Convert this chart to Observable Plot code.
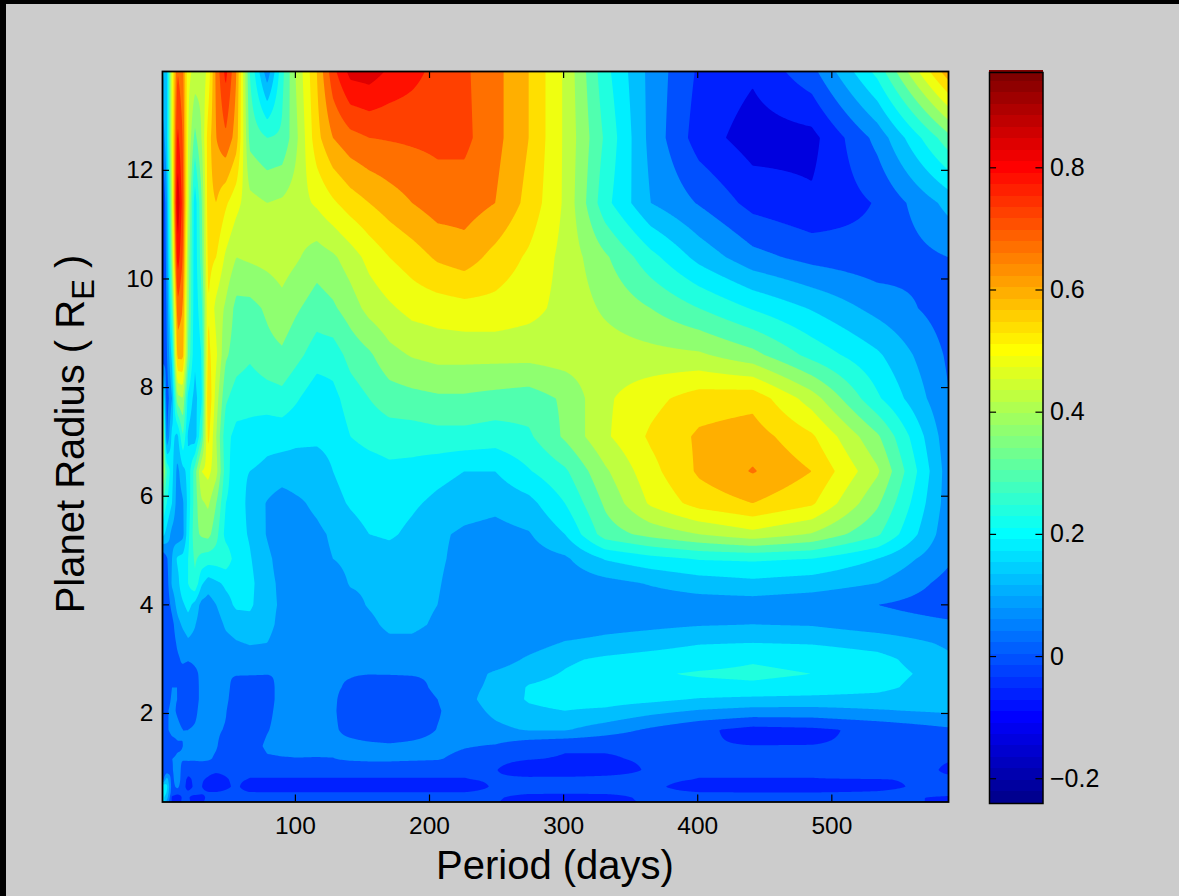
<!DOCTYPE html>
<html><head><meta charset="utf-8">
<script src="https://cdn.jsdelivr.net/npm/d3@7"></script>
<script src="https://cdn.jsdelivr.net/npm/@observablehq/plot@0.6"></script>
<style>
html,body{margin:0;padding:0;background:#ccc;}
#page{position:relative;width:1179px;height:896px;overflow:hidden;background:#cccccc;font-family:"Liberation Sans",Arial,sans-serif;color:#000;}
#edge{position:absolute;left:0;top:0;right:0;bottom:0;box-shadow:inset 6px 4px 0 #000;pointer-events:none;}
#page svg{position:absolute;background:transparent;}
.title{position:absolute;white-space:nowrap;font-size:40px;line-height:1;}
#ytitle{left:70px;top:434px;transform:translate(-50%,-50%) rotate(-90deg);}
#xtitle{left:555px;top:865px;transform:translate(-50%,-50%);}
#ytitle sub{font-size:31px;line-height:0;vertical-align:-10px;}
</style></head>
<body><div id="page"><div id="edge"></div>
<div class="title" id="ytitle">Planet Radius ( R<sub>E</sub> )</div>
<div class="title" id="xtitle">Period (days)</div>
</div>
<script>
const periods=[0.9,4,8,12,16,20,25,30,35,41,48,56,66,79,90,100,116,128,141,155,170,187,206,226,249,274,301,331,365,401,441,485,534,587];
const radii=[13.82,12.6,11.4,10.4,9.46,8.6,7.8,7.1,6.46,5.87,5.3,4.85,4.4,4,3.64,3.3,3.0,2.73,2.48,2.26,2.05,1.7,1.4,1.16,0.96,0.79,0.65,0.54,0.45,0.37];
const r01=[.20,.15,.50,.72,.68,.50,.46,.44,.50,.68,.80,.66,.30,.08,.28,.42,.60,.76,.86,.87,.83,.80,.76,.73,.68,.60,.47,.26,.10,-.01,-.05,.04,.26,.64];
const r02=[.08,.16,.50,.80,.72,.48,.34,.42,.57,.66,.71,.63,.34,.30,.31,.40,.58,.66,.70,.72,.725,.73,.735,.735,.68,.60,.47,.29,.10,-.03,-.09,-.08,.08,.34];
const r03=[-.02,.10,.45,.90,.75,.45,.20,.35,.58,.60,.55,.50,.44,.42,.43,.45,.49,.53,.57,.60,.63,.66,.69,.69,.66,.58,.47,.26,.12,.055,-.02,-.05,.005,.14];
const r04=[-.02,.08,.40,.82,.72,.40,.20,.33,.56,.54,.47,.42,.43,.44,.45,.43,.39,.41,.45,.50,.54,.57,.61,.63,.58,.53,.46,.37,.26,.16,.08,.04,.02,.06];
const r05=[-.01,.06,.30,.70,.66,.38,.20,.28,.54,.46,.41,.34,.34,.37,.40,.37,.33,.35,.39,.44,.47,.50,.51,.52,.52,.50,.46,.41,.36,.30,.235,.175,.10,.03];
const r06=[0,.05,.20,.62,.62,.35,.19,.24,.56,.49,.37,.33,.31,.34,.35,.32,.27,.27,.32,.35,.40,.425,.44,.44,.44,.44,.45,.45,.44,.43,.38,.28,.19,.05];
const r07=[.30,.02,.12,.40,.42,.22,.16,.22,.60,.45,.31,.27,.26,.27,.28,.25,.20,.22,.27,.30,.33,.34,.35,.35,.34,.33,.37,.47,.52,.57,.58,.45,.25,.063];
const r08=[.50,.05,.20,.16,.30,.17,.14,.30,.56,.42,.26,.22,.22,.20,.20,.19,.19,.195,.24,.26,.27,.27,.28,.28,.27,.29,.37,.47,.55,.61,.63,.55,.37,.08];
const r09=[.45,.30,.20,.10,.16,.20,.33,.48,.50,.44,.27,.19,.18,.165,.155,.16,.155,.18,.20,.21,.225,.22,.20,.18,.18,.235,.29,.41,.52,.61,.665,.60,.43,.09];
const r10=[.30,.24,.18,.09,.11,.20,.33,.41,.43,.36,.24,.21,.165,.115,.085,.105,.135,.165,.185,.20,.21,.19,.165,.145,.135,.16,.24,.37,.49,.565,.60,.55,.37,.09];
const r11=[.20,.16,.10,.08,.10,.22,.34,.37,.38,.32,.22,.20,.175,.115,.07,.085,.105,.13,.16,.18,.19,.165,.13,.11,.10,.115,.18,.33,.38,.42,.46,.415,.31,.08];
const r12=[.005,.05,.12,.19,.20,.24,.31,.28,.27,.27,.28,.21,.185,.135,.09,.085,.10,.12,.135,.14,.15,.145,.13,.10,.09,.09,.11,.185,.22,.245,.25,.24,.18,.07];
const r13=[.005,.03,.13,.16,.22,.24,.29,.19,.15,.17,.19,.20,.195,.14,.105,.09,.08,.09,.125,.13,.14,.14,.125,.09,.08,.075,.08,.10,.125,.15,.165,.15,.12,.04];
const r14=[.005,.02,.08,.14,.17,.20,.16,.10,.09,.12,.16,.19,.19,.14,.11,.09,.07,.08,.10,.125,.145,.14,.12,.085,.08,.075,.075,.08,.085,.09,.09,.08,.06,.03];
const r15=[.005,.005,.04,.10,.13,.15,.125,.085,.08,.09,.13,.15,.16,.14,.10,.08,.07,.07,.09,.105,.135,.135,.11,.07,.07,.07,.075,.095,.105,.115,.12,.115,.09,.07];
const r16=[.005,.005,.03,.07,.09,.11,.10,.075,.07,.08,.10,.115,.125,.12,.09,.07,.065,.065,.075,.09,.105,.105,.09,.07,.075,.09,.125,.14,.155,.175,.18,.175,.155,.11];
const r17=[.005,.005,.02,.05,.07,.065,.07,.07,.065,.065,.07,.08,.09,.09,.08,.065,.065,.065,.07,.07,.08,.08,.08,.08,.085,.13,.17,.19,.205,.22,.235,.225,.20,.13];
const r18=[.005,.005,.01,.06,.04,.03,.05,.07,.075,.07,.065,.065,.065,.062,.065,.07,.065,.065,.065,.062,.064,.066,.07,.09,.13,.16,.185,.21,.235,.245,.25,.24,.21,.15];
const r19=[.02,.02,.06,.06,.02,.01,.03,.08,.08,.08,.08,.03,.02,.03,.09,.09,.08,.07,.05,.02,.01,.025,.08,.10,.135,.185,.20,.21,.22,.225,.23,.22,.20,.135];
const r20=[.03,.03,.07,.06,.02,.005,.03,.08,.08,.075,.075,.02,.005,.03,.09,.09,.08,.07,.03,.01,.005,.01,.06,.10,.15,.185,.20,.205,.195,.175,.165,.16,.155,.125];
const r21=[.05,.05,.08,.05,.02,.01,.04,.09,.09,.08,.065,.01,.01,.04,.09,.085,.08,.07,.02,.005,.01,.01,.055,.09,.135,.17,.18,.17,.14,.115,.10,.10,.115,.13];
const r22=[.05,.05,.08,.08,.06,.06,.07,.085,.09,.07,.055,.01,.005,.055,.09,.085,.075,.07,.04,.02,.01,.03,.062,.08,.105,.125,.125,.09,.05,.012,-.02,-.012,.015,.05];
const r23=[.02,.02,.03,.05,.06,.065,.07,.08,.08,.065,.03,.02,.02,.075,.08,.075,.07,.075,.08,.075,.07,.075,.08,.065,.055,.02,.005,.005,.005,.003,.001,.001,.005,.02];
const r24=[.003,.02,.06,.07,.065,.07,.07,.075,.068,.05,.02,.01,.005,.05,.055,.058,.058,.058,.07,.075,.075,.07,.065,.04,.01,.002,-.004,-.004,.005,.005,.01,.01,.012,.002];
const r25=[.003,.01,.05,.11,.03,.01,.005,.005,.005,.005,.005,.005,.005,.005,.005,.005,.005,.005,.005,.005,.005,.005,.005,.005,.002,-.03,-.035,-.02,.005,.005,.005,.005,.03,-.005];
const r26=[.02,.15,.03,.12,.01,-.005,.005,.002,-.002,-.01,-.002,.005,-.001,-.001,-.001,-.001,-.001,-.001,-.001,-.001,-.001,-.001,-.001,-.001,.005,.01,.012,.012,.01,-.001,-.001,-.001,-.001,.005];
const r27=[.25,.20,.03,.08,.01,-.01,.005,.001,-.012,-.015,-.005,.005,-.015,-.02,-.02,-.02,-.02,-.02,-.02,-.02,-.02,-.02,-.02,-.02,.005,.01,.01,.01,.008,-.018,-.02,-.02,-.008,.012];
const r28=[.22,.18,.02,.01,.005,.005,.01,.005,.002,.002,.005,.008,.002,.002,.002,.002,.002,.002,.002,.002,.002,.002,.002,.002,.01,.005,.005,.005,.01,.002,.001,.001,.003,.01];
const r29=[.20,.15,-.01,-.02,.005,.003,-.012,-.012,.01,.01,.01,.01,.01,.01,.01,.01,.01,.01,.01,.01,.01,.01,.01,.01,.005,-.015,-.02,-.015,.01,.01,.01,.01,.01,-.005];
const r30=[.25,.10,-.005,-.01,.005,.005,-.01,-.005,.01,.01,.01,.01,.01,.01,.01,.01,.01,.01,.01,.01,.01,.01,.01,.01,.002,-.015,-.015,-.012,.005,.01,.01,.01,.01,-.005];
const rows=[r01,r02,r03,r04,r05,r06,r07,r08,r09,r10,r11,r12,r13,r14,r15,r16,r17,r18,r19,r20,r21,r22,r23,r24,r25,r26,r27,r28,r29,r30];
const levels=[-.24,-.13,-.06,0,.06,.12,.18,.24,.30,.36,.42,.48,.54,.60,.66,.72,.78,.84,.90];
const xTicks=[100,200,300,400,500];
const yTicks=[2,4,6,8,10,12];
const barTicks=[-.2,0,.2,.4,.6,.8];

function jet(t){
  const i=Math.min(64,Math.floor(Math.max(0,t)*64)+1);
  const c=v=>Math.round(255*Math.max(0,Math.min(1,v)));
  return `rgb(${c(Math.min((i-24)/16,1-(i-56)/16))},${c(Math.min((i-8)/16,1-(i-40)/16))},${c(Math.min(.5+i/16,1-(i-24)/16))})`;
}
const colorScale={type:"linear",domain:[-.24,.96],interpolate:jet};
// value of the table at (period, radius): read between its four surrounding entries
const radiiAsc=radii.slice().reverse();
function tableValue(x,y){
  const i=Math.max(0,Math.min(periods.length-2,d3.bisectRight(periods,x)-1));
  const k=Math.max(0,Math.min(radiiAsc.length-2,d3.bisectRight(radiiAsc,y)-1));
  const j=radii.length-1-k;
  const u=(x-periods[i])/(periods[i+1]-periods[i]), w=(y-radiiAsc[k])/(radiiAsc[k+1]-radiiAsc[k]);
  const a=rows[j][i],b=rows[j][i+1],c=rows[j-1][i],d=rows[j-1][i+1];
  return (a*(1-u)+b*u)*(1-w)+(c*(1-u)+d*u)*w;
}
const font='"Liberation Sans",Arial,sans-serif';
const xDom=[0.9,587],yDom=[0.37,13.82];
const tx=(xDom[1]-xDom[0])/786*7, ty=(yDom[1]-yDom[0])/730.5*7;

const main=Plot.plot({
  width:960,height:860,marginLeft:162,marginRight:12,marginTop:71,marginBottom:58.5,
  style:{fontFamily:font,color:"#000",background:"transparent"},
  x:{domain:xDom,label:null},y:{domain:yDom,label:null},color:colorScale,
  marks:[
    Plot.contour({fill:tableValue,x1:xDom[0],x2:xDom[1],y1:yDom[0],y2:yDom[1],thresholds:levels,pixelSize:1}),
    Plot.axisX(xTicks,{anchor:"bottom",tickSize:0,tickPadding:15,fontSize:24.5,label:null,stroke:"none"}),
    Plot.axisY(yTicks,{anchor:"left",tickSize:0,tickPadding:9,fontSize:24.5,label:null,stroke:"none",tickFormat:d3.format("d")}),
    Plot.ruleX(xTicks,{x:d=>d,y1:yDom[0],y2:yDom[0]+ty,stroke:"#000",strokeWidth:1.2}),
    Plot.ruleX(xTicks,{x:d=>d,y1:yDom[1],y2:yDom[1]-ty,stroke:"#000",strokeWidth:1.2}),
    Plot.ruleY(yTicks,{y:d=>d,x1:xDom[0],x2:xDom[0]+tx,stroke:"#000",strokeWidth:1.2}),
    Plot.ruleY(yTicks,{y:d=>d,x1:xDom[1],x2:xDom[1]-tx,stroke:"#000",strokeWidth:1.2}),
    Plot.frame({stroke:"#000",strokeWidth:1.8})
  ]
});
main.style.left="0px";main.style.top="0px";
document.getElementById("page").appendChild(main);

const barDom=[-.2405,.956];
const bins=d3.range(64).map(i=>({lo:-.24+i*1.2/64,hi:-.24+(i+1)*1.2/64}));
const bar=Plot.plot({
  width:190,height:830,marginLeft:13,marginRight:123.5,marginTop:72,marginBottom:27,
  style:{fontFamily:font,color:"#000",background:"transparent"},
  x:{domain:[0,1],axis:null},y:{domain:barDom,label:null},color:colorScale,
  marks:[
    Plot.rect(bins,{x1:0,x2:1,y1:"lo",y2:"hi",fill:d=>(d.lo+d.hi)/2,shapeRendering:"crispEdges"}),
    Plot.axisY(barTicks,{anchor:"right",tickSize:0,tickPadding:7,fontSize:25,label:null,stroke:"none",tickFormat:d3.format("~g")}),
    Plot.ruleY(barTicks,{y:d=>d,x1:0,x2:7/53,stroke:"#000",strokeWidth:1.2}),
    Plot.ruleY(barTicks,{y:d=>d,x1:1,x2:1-7/53,stroke:"#000",strokeWidth:1.2}),
    Plot.frame({stroke:"#000",strokeWidth:1.5})
  ]
});
bar.style.left="975.5px";bar.style.top="0px";
document.getElementById("page").appendChild(bar);
</script></body></html>
